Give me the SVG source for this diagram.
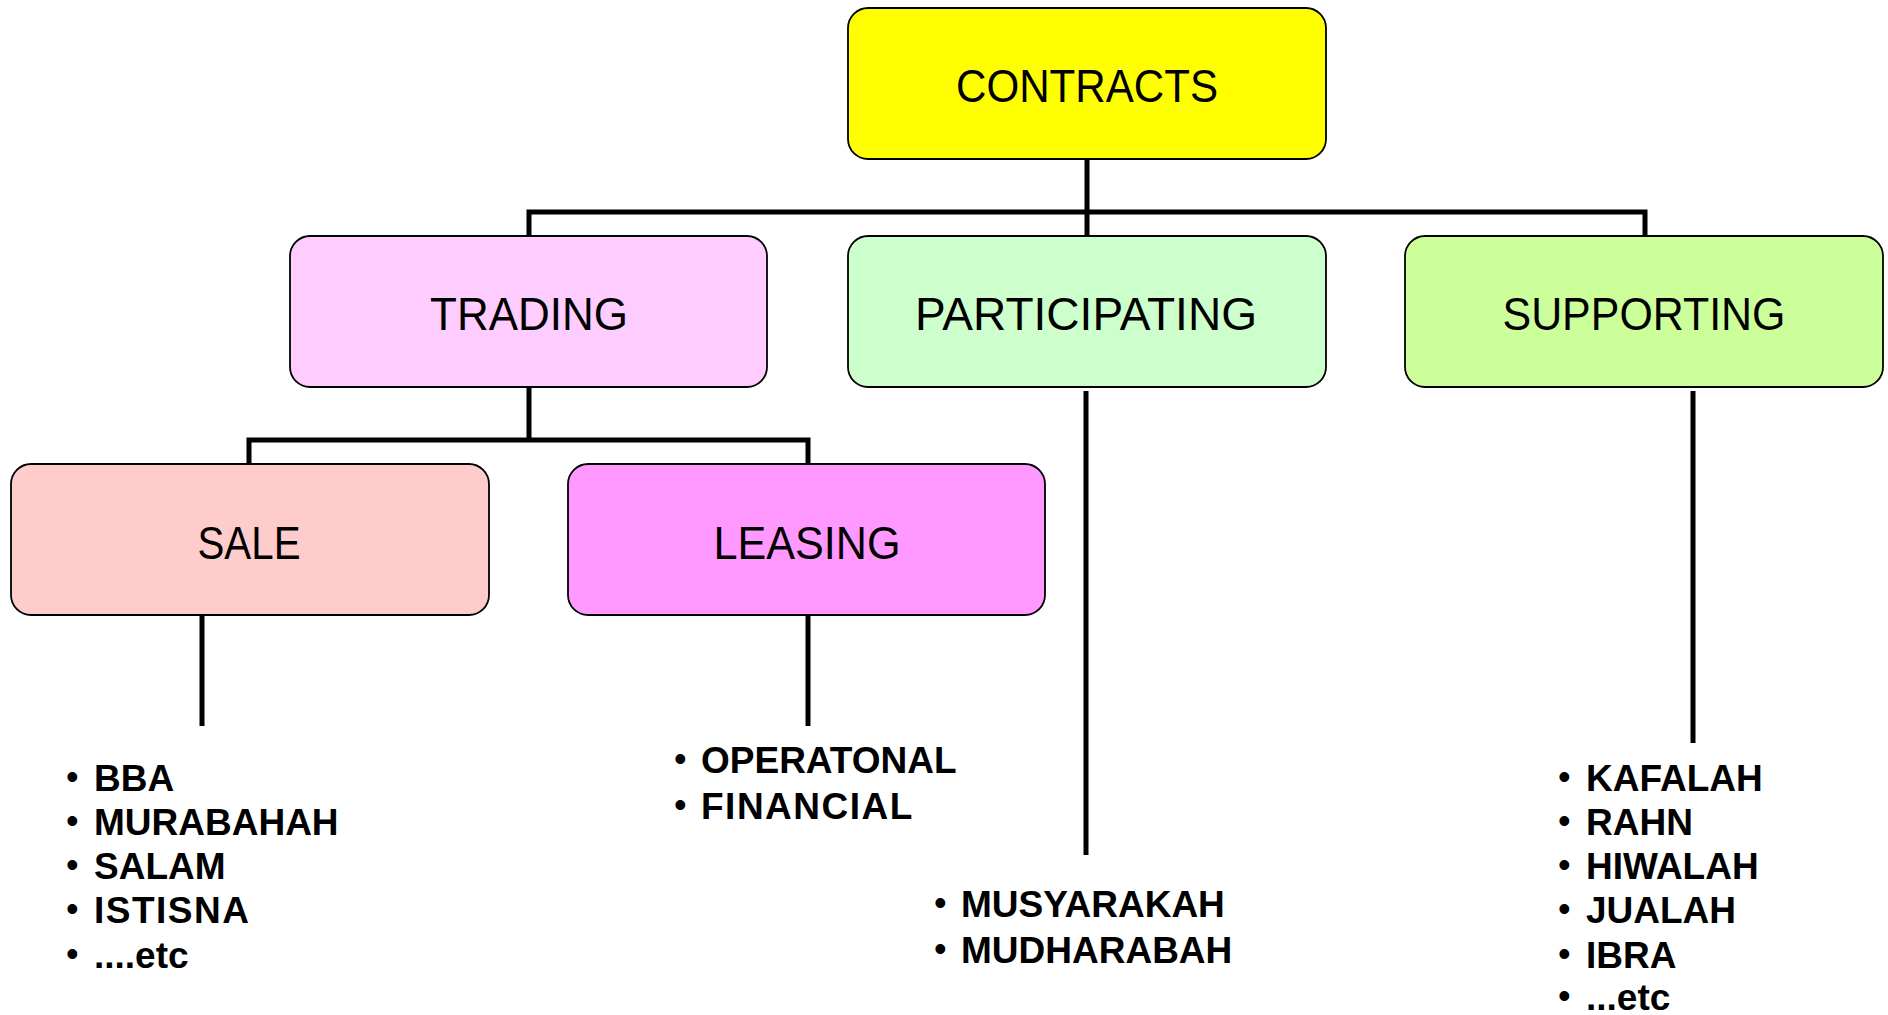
<svg xmlns="http://www.w3.org/2000/svg" width="1888" height="1015" viewBox="0 0 1888 1015">
<style>
.box{stroke:#000;stroke-width:1.8}
.lbl{font-family:"Liberation Sans",Arial,sans-serif;font-size:46px;fill:#000;text-anchor:middle}
.item{font-family:"Liberation Sans",Arial,sans-serif;font-size:37px;font-weight:bold;fill:#000}
.bul{font-family:"Liberation Sans",Arial,sans-serif;font-size:36px;fill:#000}
.conn{fill:none;stroke:#000;stroke-width:5}
</style>
<rect width="1888" height="1015" fill="#fff"/>
<g id="connectors">
<path class="conn" d="M1087 159 V236 M529 236 V212 H1645 V236"/>
<path class="conn" d="M529 387 V440 M249 464 V440 H808 V464"/>
<path class="conn" d="M202 615 V726"/>
<path class="conn" d="M808 615 V726"/>
<path class="conn" d="M1086 391 V855"/>
<path class="conn" d="M1693 391 V743"/>
</g>
<g id="contracts">
<rect class="box" x="848" y="8" width="478" height="151" rx="20" fill="#FFFF00"/>
<text class="lbl" x="1087" y="102" textLength="262" lengthAdjust="spacingAndGlyphs">CONTRACTS</text>
</g>
<g id="trading">
<rect class="box" x="290" y="236" width="477" height="151" rx="20" fill="#FFCCFF"/>
<text class="lbl" x="529" y="330" textLength="198" lengthAdjust="spacingAndGlyphs">TRADING</text>
</g>
<g id="participating">
<rect class="box" x="848" y="236" width="478" height="151" rx="20" fill="#CCFFCC"/>
<text class="lbl" x="1086" y="330" textLength="342" lengthAdjust="spacingAndGlyphs">PARTICIPATING</text>
</g>
<g id="supporting">
<rect class="box" x="1405" y="236" width="478" height="151" rx="20" fill="#CCFF99"/>
<text class="lbl" x="1644" y="330" textLength="283" lengthAdjust="spacingAndGlyphs">SUPPORTING</text>
</g>
<g id="sale">
<rect class="box" x="11" y="464" width="478" height="151" rx="20" fill="#FFCCCC"/>
<text class="lbl" x="249" y="559" textLength="103" lengthAdjust="spacingAndGlyphs">SALE</text>
</g>
<g id="leasing">
<rect class="box" x="568" y="464" width="477" height="151" rx="20" fill="#FF99FF"/>
<text class="lbl" x="807" y="559" textLength="187" lengthAdjust="spacingAndGlyphs">LEASING</text>
</g>
<g id="sale-list">
<text class="bul" x="66" y="789">•</text><text class="item" x="94" y="791">BBA</text>
<text class="bul" x="66" y="833">•</text><text class="item" x="94" y="835">MURABAHAH</text>
<text class="bul" x="66" y="877">•</text><text class="item" x="94" y="879">SALAM</text>
<text class="bul" x="66" y="921">•</text><text class="item" x="94" y="923" letter-spacing="1.5">ISTISNA</text>
<text class="bul" x="66" y="966">•</text><text class="item" x="94" y="968">....etc</text>
</g>
<g id="leasing-list">
<text class="bul" x="674" y="771">•</text><text class="item" x="701" y="773">OPERATONAL</text>
<text class="bul" x="674" y="817">•</text><text class="item" x="701" y="819" letter-spacing="1.5">FINANCIAL</text>
</g>
<g id="participating-list">
<text class="bul" x="934" y="915">•</text><text class="item" x="961" y="917">MUSYARAKAH</text>
<text class="bul" x="934" y="961">•</text><text class="item" x="961" y="963">MUDHARABAH</text>
</g>
<g id="supporting-list">
<text class="bul" x="1558" y="789">•</text><text class="item" x="1586" y="791">KAFALAH</text>
<text class="bul" x="1558" y="833">•</text><text class="item" x="1586" y="835">RAHN</text>
<text class="bul" x="1558" y="877">•</text><text class="item" x="1586" y="879">HIWALAH</text>
<text class="bul" x="1558" y="921">•</text><text class="item" x="1586" y="923">JUALAH</text>
<text class="bul" x="1558" y="966">•</text><text class="item" x="1586" y="968">IBRA</text>
<text class="bul" x="1558" y="1008">•</text><text class="item" x="1586" y="1010">...etc</text>
</g>
</svg>
